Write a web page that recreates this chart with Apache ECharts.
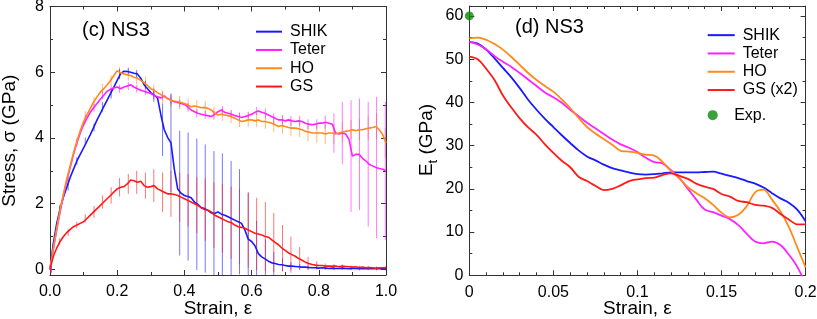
<!DOCTYPE html>
<html><head><meta charset="utf-8">
<script src="https://cdn.jsdelivr.net/npm/echarts@6/dist/echarts.min.js"></script>
<style>html,body{margin:0;padding:0;background:#fff}#c{width:817px;height:319px}</style>
</head><body><div id="c"></div>
<script>
// ---------- Panel (c): stress-strain ----------
const strainL = [0,0.01,0.02,0.03,0.04,0.05,0.06,0.07,0.08,0.09,
0.1,0.11,0.12,0.13,0.14,0.15,0.16,0.17,0.18,0.19,
0.2,0.21,0.22,0.23,0.24,0.25,0.26,0.27,0.28,0.29,
0.3,0.31,0.32,0.33,0.34,0.35,0.36,0.37,0.38,0.39,
0.4,0.41,0.42,0.43,0.44,0.45,0.46,0.47,0.48,0.49,
0.5,0.51,0.52,0.53,0.54,0.55,0.56,0.57,0.58,0.59,
0.6,0.61,0.62,0.63,0.64,0.65,0.66,0.67,0.68,0.69,
0.7,0.71,0.72,0.73,0.74,0.75,0.76,0.77,0.78,0.79,
0.8,0.81,0.82,0.83,0.84,0.85,0.86,0.87,0.88,0.89,
0.9,0.91,0.92,0.93,0.94,0.95,0.96,0.97,0.98,0.99,1.0];
const shikStress = [0,0.8,1.4,1.85,2.2,2.5,2.8,3.05,3.3,3.5,
3.7,3.9,4.1,4.32,4.55,4.75,4.95,5.15,5.35,5.55,
5.75,5.95,6.03,6.02,6.0,5.97,5.95,5.82,5.62,5.5,
5.38,5.3,5.22,4.7,4.25,4.02,3.85,3.05,2.45,2.32,
2.25,2.22,2.18,2.05,1.98,1.88,1.85,1.8,1.72,1.7,
1.75,1.68,1.65,1.6,1.55,1.5,1.45,1.4,1.2,0.92,
0.85,0.72,0.48,0.38,0.32,0.25,0.2,0.18,0.15,0.14,
0.12,0.1,0.1,0.09,0.08,0.07,0.07,0.06,0.05,0.05,
0.04,0.05,0.04,0.03,0.04,0.03,0.03,0.04,0.03,0.02,
0.03,0.03,0.02,0.03,0.02,0.03,0.02,0.02,0.03,0.02,0.02];
const teterStress = [0,0.62,1.2,1.75,2.25,2.7,3.1,3.5,3.85,4.15,
4.4,4.6,4.78,4.92,5.05,5.18,5.3,5.42,5.48,5.52,
5.55,5.5,5.55,5.58,5.62,5.55,5.5,5.45,5.42,5.38,
5.35,5.3,5.25,5.22,5.28,5.2,5.15,5.1,5.08,5.05,
5.02,4.95,4.85,4.8,4.75,4.72,4.7,4.68,4.65,4.72,
4.8,4.85,4.78,4.75,4.72,4.68,4.65,4.62,4.65,4.68,
4.72,4.78,4.82,4.78,4.75,4.7,4.65,4.6,4.55,4.55,
4.52,4.55,4.52,4.5,4.52,4.5,4.45,4.42,4.4,4.42,
4.45,4.45,4.48,4.45,4.42,4.15,4.12,4.15,4.12,3.95,
3.45,3.5,3.5,3.38,3.3,3.2,3.15,3.1,3.07,3.05,3.0];
const hoStress = [0,0.65,1.25,1.8,2.3,2.75,3.15,3.55,3.9,4.22,
4.5,4.7,4.9,5.1,5.25,5.4,5.5,5.62,5.75,5.9,
6.05,5.98,5.95,5.92,5.9,5.85,5.82,5.75,5.68,5.6,
5.5,5.45,5.38,5.32,5.25,5.2,5.15,5.12,5.1,5.08,
5.05,5.0,4.95,4.97,4.95,4.92,4.93,4.9,4.85,4.75,
4.7,4.72,4.7,4.68,4.65,4.6,4.55,4.5,4.52,4.55,
4.55,4.52,4.55,4.5,4.5,4.48,4.45,4.4,4.35,4.38,
4.35,4.32,4.3,4.3,4.28,4.25,4.2,4.18,4.15,4.15,
4.15,4.15,4.12,4.15,4.15,4.12,4.15,4.18,4.2,4.22,
4.25,4.22,4.25,4.25,4.28,4.3,4.32,4.35,4.25,4.1,3.85];
const gsStress = [0,0.4,0.65,0.85,1.0,1.12,1.22,1.3,1.35,1.4,
1.45,1.55,1.65,1.75,1.85,1.95,2.05,2.15,2.25,2.35,
2.45,2.5,2.52,2.6,2.72,2.7,2.65,2.68,2.55,2.5,
2.52,2.55,2.45,2.4,2.35,2.3,2.3,2.28,2.25,2.2,
2.15,2.1,2.05,2.0,1.95,1.88,1.82,1.8,1.75,1.65,
1.6,1.55,1.5,1.45,1.42,1.35,1.3,1.28,1.25,1.2,
1.15,1.1,1.08,1.05,1.0,0.98,0.9,0.82,0.75,0.65,
0.58,0.5,0.45,0.4,0.33,0.28,0.22,0.18,0.15,0.13,
0.12,0.12,0.1,0.1,0.1,0.1,0.08,0.1,0.09,0.08,
0.07,0.08,0.06,0.07,0.05,0.06,0.05,0.04,0.05,0.05,0.05];
// error-bar strains and half-widths
const errStrain = [0.003,0.029,0.054,0.080,0.105,0.131,0.156,0.182,0.207,0.233,
0.258,0.284,0.309,0.335,0.360,0.386,0.411,0.437,0.462,0.488,
0.513,0.539,0.564,0.590,0.615,0.641,0.666,0.692,0.717,0.743,
0.768,0.794,0.819,0.845,0.870,0.896,0.921,0.947,0.972,0.998];
const shikErr = [0.1,0.1,0.1,0.12,0.12,0.12,0.15,0.15,0.15,0.12,
0.12,0.12,0.2,0.8,1.5,1.9,1.95,2.0,1.95,1.9,
1.85,1.75,1.6,1.4,1.0,0.6,0.35,0.2,0.12,0.08,
0.06,0.05,0.05,0.05,0.05,0.05,0.05,0.05,0.05,0.05];
const teterErr = [0.08,0.1,0.1,0.1,0.1,0.12,0.12,0.12,0.12,0.12,
0.12,0.12,0.12,0.12,0.12,0.12,0.12,0.12,0.12,0.12,
0.12,0.12,0.12,0.12,0.12,0.15,0.15,0.15,0.15,0.15,
0.15,0.15,0.2,0.6,0.95,1.7,1.7,1.9,2.15,2.1];
const hoErr = [0.1,0.12,0.12,0.12,0.12,0.15,0.15,0.15,0.18,0.18,
0.18,0.18,0.18,0.2,0.2,0.2,0.2,0.2,0.2,0.2,
0.2,0.2,0.22,0.22,0.22,0.22,0.22,0.25,0.25,0.25,
0.28,0.3,0.3,0.3,0.3,0.3,0.32,0.35,0.4,0.45];
const gsErr = [0.15,0.1,0.1,0.1,0.12,0.18,0.2,0.25,0.28,0.3,
0.35,0.4,0.5,0.6,0.7,0.75,0.8,0.85,0.95,1.0,
1.05,1.1,1.15,1.15,1.1,1.05,0.9,0.7,0.55,0.35,
0.2,0.12,0.08,0.06,0.05,0.05,0.05,0.05,0.05,0.05];

// ---------- Panel (d): tangent modulus ----------
const strainR = [0,0.005,0.01,0.015,0.02,0.025,0.03,0.035,0.04,0.045,
0.05,0.055,0.06,0.065,0.07,0.075,0.08,0.085,0.09,0.095,
0.1,0.105,0.11,0.115,0.12,0.125,0.13,0.135,0.14,0.145,
0.15,0.155,0.16,0.165,0.17,0.175,0.18,0.185,0.19,0.195,0.2];
const shikEt = [54.0,53.6,52.2,50.2,48.0,45.8,43.3,40.6,38.3,36.2,
34.3,32.4,30.6,28.9,27.5,26.6,25.6,24.8,24.3,23.8,
23.4,23.3,23.4,23.6,23.8,23.8,23.8,23.8,23.9,24.0,
23.5,23.0,22.5,21.8,21.2,20.3,19.0,17.8,16.8,15.2,12.5];
const teterEt = [54.0,53.4,52.3,50.7,49.4,48.2,46.8,45.3,43.8,42.3,
41.2,39.9,38.3,36.8,35.3,34.0,32.7,31.4,30.3,29.5,
28.5,27.2,26.2,25.9,24.3,22.5,20.0,17.5,15.2,14.6,
13.8,13.0,11.6,9.6,7.8,7.4,7.8,7.0,4.8,2.0,-2.0];
const hoEt = [54.8,55.0,54.5,53.5,52.2,50.5,48.7,46.8,45.2,43.8,
42.5,40.7,38.7,36.4,34.3,32.8,31.5,30.2,28.8,28.6,
28.3,27.9,27.7,26.2,24.1,22.4,20.4,19.0,17.8,16.3,
14.5,13.4,14.0,16.0,19.2,19.8,17.5,14.8,11.2,6.5,1.8];
const gsEt = [50.6,50.0,47.8,45.2,41.6,38.8,36.3,34.2,32.5,30.3,
28.3,26.5,25.0,22.8,21.8,20.7,19.7,20.0,20.8,21.8,
22.2,22.5,22.6,23.2,23.6,23.0,22.3,21.2,20.5,20.0,
18.8,18.2,17.2,16.9,16.3,16.1,15.6,14.2,12.9,11.8,11.8];
const expStrain = [0];
const expEt = [60];

const FONT = 'Liberation Sans, Arial, Helvetica, sans-serif';
const AX = '#333';
const C = {shik:'#1a1aff', teter:'#ff22ff', ho:'#ff8a1c', gs:'#ff1a1a', exp:'#0a8a0a'};

function zip(xs, ys){ return xs.map((x,i)=>[x, ys[i]]); }

function xAxisDef(grid, pos, min, max, interval, minorSplit, showLabel, fmt, name){
  return {
    type:'value', gridIndex:grid, position:pos, min, max, interval,
    axisLine:{show:true, onZero:false, lineStyle:{color:AX, width:1}},
    axisTick:{show:true, inside:true, length:5, lineStyle:{color:AX}},
    minorTick:{show:true, splitNumber:minorSplit, length:3, lineStyle:{color:AX}},
    splitLine:{show:false}, minorSplitLine:{show:false},
    axisLabel:{show:showLabel, color:'#000', fontSize:16, fontFamily:FONT, margin:9, formatter:fmt},
    name: name || '', nameLocation:'middle', nameGap:24, nameMoveOverlap:false,
    nameTextStyle:{color:'#000', fontSize:19, fontFamily:FONT}
  };
}
function yAxisDef(grid, pos, min, max, opts){
  const a = {
    type:'value', gridIndex:grid, position:pos, min, max,
    axisLine:{show:!!opts.line, onZero:false, lineStyle:{color:AX, width:1}},
    axisTick:{show:true, inside:true, length:opts.tick, lineStyle:{color:AX}},
    splitLine:{show:false},
    axisLabel:{show:!!opts.label, color:'#000', fontSize:16, fontFamily:FONT, margin:6,
      showMinLabel:true, showMaxLabel:true, formatter:opts.fmt}
  };
  if (opts.interval) a.interval = opts.interval;
  if (opts.split) a.splitNumber = opts.split;
  if (opts.name) { a.name = opts.name; a.nameLocation='middle'; a.nameGap=opts.gap; a.nameMoveOverlap=false;
    a.nameTextStyle = {color:'#000', fontSize:19, fontFamily:FONT}; }
  return a;
}
const fmtL = v => (Math.abs(v - 2*Math.round(v/2)) < 1e-6 ? String(Math.round(v)) : '');
const fmtR = v => (Math.abs(v - 10*Math.round(v/10)) < 1e-6 ? String(Math.round(v)) : '');

function errSeries(vals, half, color){
  const data = errStrain.map((s,i)=>[s, vals[Math.round(s*100)], half[i]]);
  return {
    type:'custom', xAxisIndex:0, yAxisIndex:0, clip:true, silent:true, z:1,
    encode:{x:0, y:1}, data,
    renderItem:(params, api)=>{
      const x = api.value(0), c = api.value(1), h = api.value(2);
      const p1 = api.coord([x, c+h]), p2 = api.coord([x, c-h]);
      return {type:'line', shape:{x1:p1[0], y1:p1[1], x2:p2[0], y2:p2[1]},
        style:{stroke:color, lineWidth:1, opacity:0.6}};
    }
  };
}
function lineL(name, vals, color){
  return {type:'line', name, xAxisIndex:0, yAxisIndex:0, data:zip(strainL, vals),
    showSymbol:false, symbol:'none', z:3, lineStyle:{color, width:1.6}, itemStyle:{color}};
}
function lineR(name, vals, color){
  return {type:'line', name, xAxisIndex:2, yAxisIndex:4, data:zip(strainR, vals),
    smooth:0.35, showSymbol:false, symbol:'none', z:3, lineStyle:{color, width:1.8}, itemStyle:{color}};
}

const legendText = {fontSize:16, color:'#000', fontFamily:FONT, lineHeight:18.3, padding:[0,0,0,3]};

const option = {
  animation:false,
  backgroundColor:'#fff',
  grid:[
    {left:50, top:6.5, width:336, height:268.5, outerBoundsMode:'none', containLabel:false},
    {left:469.3, top:6, width:336.3, height:269.3, outerBoundsMode:'none', containLabel:false}
  ],
  xAxis:[
    xAxisDef(0,'bottom',0,1,0.2,2,true,v=>v.toFixed(1),'Strain, ε'),
    xAxisDef(0,'top',0,1,0.2,2,false,null,null),
    xAxisDef(1,'bottom',0,0.2,0.05,5,true,v=>String(+v.toFixed(2)),'Strain, ε'),
    xAxisDef(1,'top',0,0.2,0.05,5,false,null,null)
  ],
  yAxis:[
    yAxisDef(0,'left',-0.17,8,{line:true, label:true, tick:5, split:4, fmt:fmtL, name:'Stress, σ (GPa)', gap:31}),
    yAxisDef(0,'left',-0.17,8,{tick:3, split:8}),
    yAxisDef(0,'right',-0.17,8,{line:true, tick:5, split:4}),
    yAxisDef(0,'right',-0.17,8,{tick:3, split:8}),
    yAxisDef(1,'left',0,62.3,{line:true, label:true, tick:5, interval:10, fmt:fmtR}),
    yAxisDef(1,'left',0,62.3,{tick:3, interval:5}),
    yAxisDef(1,'right',0,62.3,{line:true, tick:5, interval:10}),
    yAxisDef(1,'right',0,62.3,{tick:3, interval:5})
  ],
  legend:[
    {data:['SHIK','Teter','HO','GS'], orient:'vertical', left:251, top:17.5, itemWidth:26, itemHeight:2,
     icon:'rect', itemGap:0, selectedMode:false, textStyle:legendText},
    {data:['SHIK','Teter','HO','GS (x2)'], orient:'vertical', left:702.7, top:21, itemWidth:27, itemHeight:2,
     icon:'rect', itemGap:0, selectedMode:false, textStyle:legendText},
    {data:['Exp.'], orient:'vertical', left:702.7, top:101, itemWidth:27, itemHeight:10,
     icon:'circle', itemGap:0, selectedMode:false, textStyle:legendText}
  ],
  graphic:[
    {type:'text', left:82, top:20, style:{text:'(c) NS3', fontSize:20, fontFamily:FONT, fill:'#000'}},
    {type:'text', left:515, top:17, style:{text:'(d) NS3', fontSize:20, fontFamily:FONT, fill:'#000'}},
    {type:'text', x:427, y:140, rotation:Math.PI/2, z:10,
     style:{text:'{e|E}{s|t}{g| (GPa)}', align:'center', verticalAlign:'middle',
       rich:{e:{fontSize:19, fontFamily:FONT, fill:'#000', lineHeight:26},
             s:{fontSize:13, fontFamily:FONT, fill:'#000', lineHeight:13, verticalAlign:'bottom'},
             g:{fontSize:19, fontFamily:FONT, fill:'#000', lineHeight:26}}}}
  ],
  series:[
    errSeries(hoStress, hoErr, C.ho),
    errSeries(teterStress, teterErr, C.teter),
    errSeries(shikStress, shikErr, C.shik),
    errSeries(gsStress, gsErr, C.gs),
    lineL('SHIK', shikStress, C.shik),
    lineL('Teter', teterStress, C.teter),
    lineL('HO', hoStress, C.ho),
    lineL('GS', gsStress, C.gs),
    lineR('SHIK', shikEt, C.shik),
    lineR('Teter', teterEt, C.teter),
    lineR('HO', hoEt, C.ho),
    lineR('GS (x2)', gsEt, C.gs),
    {type:'scatter', name:'Exp.', xAxisIndex:2, yAxisIndex:4, data:zip(expStrain, expEt),
     symbol:'circle', symbolSize:9, clip:false, z:5, itemStyle:{color:C.exp}}
  ]
};
const chart = echarts.init(document.getElementById('c'), null, {renderer:'canvas'});
chart.setOption(option);
</script></body></html>
